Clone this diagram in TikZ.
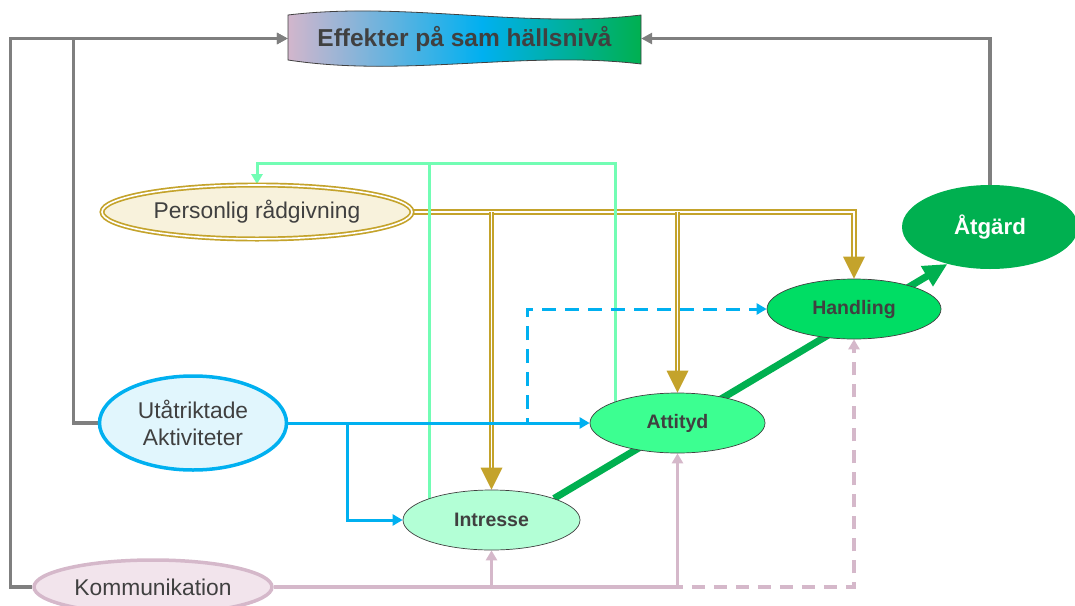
\documentclass[tikz,border=0pt]{standalone}
\usepackage{fontspec}
\setmainfont{Liberation Sans}
\usetikzlibrary{shapes.geometric,arrows.meta,backgrounds}

\definecolor{txt}{HTML}{404040}
\definecolor{gold}{HTML}{C4A32B}
\definecolor{cream}{HTML}{F8F2DC}
\definecolor{skyb}{HTML}{00B0F0}
\definecolor{skyfill}{HTML}{E1F6FD}
\definecolor{mauve}{HTML}{D5B8CA}
\definecolor{mauvefill}{HTML}{F2E4EC}
\definecolor{mint}{HTML}{72FDB4}
\definecolor{mintfill}{HTML}{B3FFD6}
\definecolor{attfill}{HTML}{3CFF91}
\definecolor{handfill}{HTML}{00DD64}
\definecolor{deepgreen}{HTML}{00B050}
\definecolor{greyline}{HTML}{7F7F7F}
\definecolor{bnA}{HTML}{D2B6CC}
\definecolor{bnB}{HTML}{00B0F0}
\definecolor{bnC}{HTML}{00B050}

% left-to-right blend for the headline banner
\pgfdeclarehorizontalshading{bannershade}{100bp}{color(0bp)=(bnA); color(25bp)=(bnA); color(52.5bp)=(bnB); color(75bp)=(bnC); color(100bp)=(bnC)}

\begin{document}
\begin{tikzpicture}[x=1pt,y=-1pt,
  oval/.style={ellipse, inner sep=0pt, text=txt, align=center,
    font=\fontsize{22.8}{27}\selectfont},
  stage/.style={ellipse, inner sep=0pt, draw=txt, line width=0.7pt, text=txt,
    minimum height=60pt, font=\fontsize{19.5}{23}\selectfont\bfseries},
  smalltip/.style={-{Triangle[length=10pt,width=11pt]}},
  greyarrow/.style={draw=greyline, line width=3.3pt, -{Triangle[length=11pt,width=11pt]}},
  golddbl/.style={draw=gold, line width=1.7pt, double=white, double distance=1.9pt, shorten >=21pt},
  goldtip/.style={fill=gold},
  blueline/.style={draw=skyb, line width=3pt, smalltip},
  bluedash/.style={blueline, dash pattern=on 14pt off 9pt},
  pinkline/.style={draw=mauve, line width=3.3pt, smalltip},
  pinkdash/.style={pinkline, dash pattern=on 13pt off 9pt},
  mintline/.style={draw=mint, line width=3pt},
  progress/.style={draw=deepgreen, line width=7pt, -{Triangle[length=24pt,width=22pt]}}
]
\useasboundingbox (0,0) rectangle (1075,605);

% headline banner with wavy top and bottom edges
\path[draw=txt, line width=0.8pt, shading=bannershade]
  (288,15) .. controls (405,1) and (525,29) .. (641,15)
  -- (641,64) .. controls (525,50) and (405,78) .. (288,60) -- cycle;
\node[inner sep=0pt, minimum width=353pt, minimum height=46pt, text=txt,
  font=\fontsize{24.5}{28}\selectfont\bfseries] (banner) at (464.5,38.5)
  {Effekter på sam hällsnivå};

% source nodes
\node[oval, minimum width=310pt, minimum height=54pt, fill=cream,
  draw=gold, line width=1.7pt, double=white, double distance=1.6pt] (pers) at (257,212) {Personlig rådgivning};
\node[oval, minimum width=187pt, minimum height=94pt, fill=skyfill,
  draw=skyb, line width=3.5pt] (ut) at (193,423) {Utåtriktade\\Aktiviteter};
\node[oval, minimum width=238pt, minimum height=54pt, fill=mauvefill,
  draw=mauve, line width=3.5pt] (kom) at (153,587) {Kommunikation};

% stages
\node[stage, minimum width=177pt, fill=mintfill] (intr) at (491.5,520) {Intresse};
\node[stage, minimum width=175pt, fill=attfill] (att) at (677.5,423) {Attityd};
\node[stage, minimum width=174pt, fill=handfill] (hand) at (854,309) {Handling};
\node[ellipse, inner sep=0pt, minimum width=176pt, minimum height=84pt, fill=deepgreen,
  text=white, font=\fontsize{22.3}{26}\selectfont\bfseries] (atg) at (990,227) {Åtgärd};

\begin{pgfonlayer}{background}
  % feedback to the banner
  \draw[greyarrow] (kom.west) -- ++(-22,0) |- (banner.west);
  \draw[greyarrow] (ut.west) -- ++(-24,0) |- (banner.west);
  \draw[greyarrow] (atg.north) |- (banner.east);

  % main progression
  \draw[progress] (intr.19) -- (atg.221);

  % personal advice
  \draw[golddbl] (pers.east) -| (hand.north);
  \draw[golddbl] (pers.east -| intr.north) -- (intr.north);
  \draw[golddbl] (pers.east -| att.north) -- (att.north);
  \fill[goldtip] (hand.north) -- ++(-11,-22) -- ++(22,0) -- cycle;
  \fill[goldtip] (intr.north) -- ++(-11,-22) -- ++(22,0) -- cycle;
  \fill[goldtip] (att.north) -- ++(-11,-22) -- ++(22,0) -- cycle;

  % feedback to personal advice
  \draw[mintline, smalltip] (att.center -| 615,0) -- (615,163) -| (pers.north);
  \draw[mintline] (intr.center -| 429,0) -- (429,163);

  % outreach activities
  \draw[bluedash] (ut.east) -- ++(239,0) |- (hand.west);
  \draw[blueline] (ut.east) -- (att.west);
  \draw[blueline] (ut.east) -- ++(59,0) |- (intr.west);

  % communication
  \draw[pinkdash] (kom.east) -| (hand.south);
  \draw[pinkline] (kom.east) -| (att.south);
  \draw[pinkline] (kom.east) -| (intr.south);
\end{pgfonlayer}
\end{tikzpicture}
\end{document}
